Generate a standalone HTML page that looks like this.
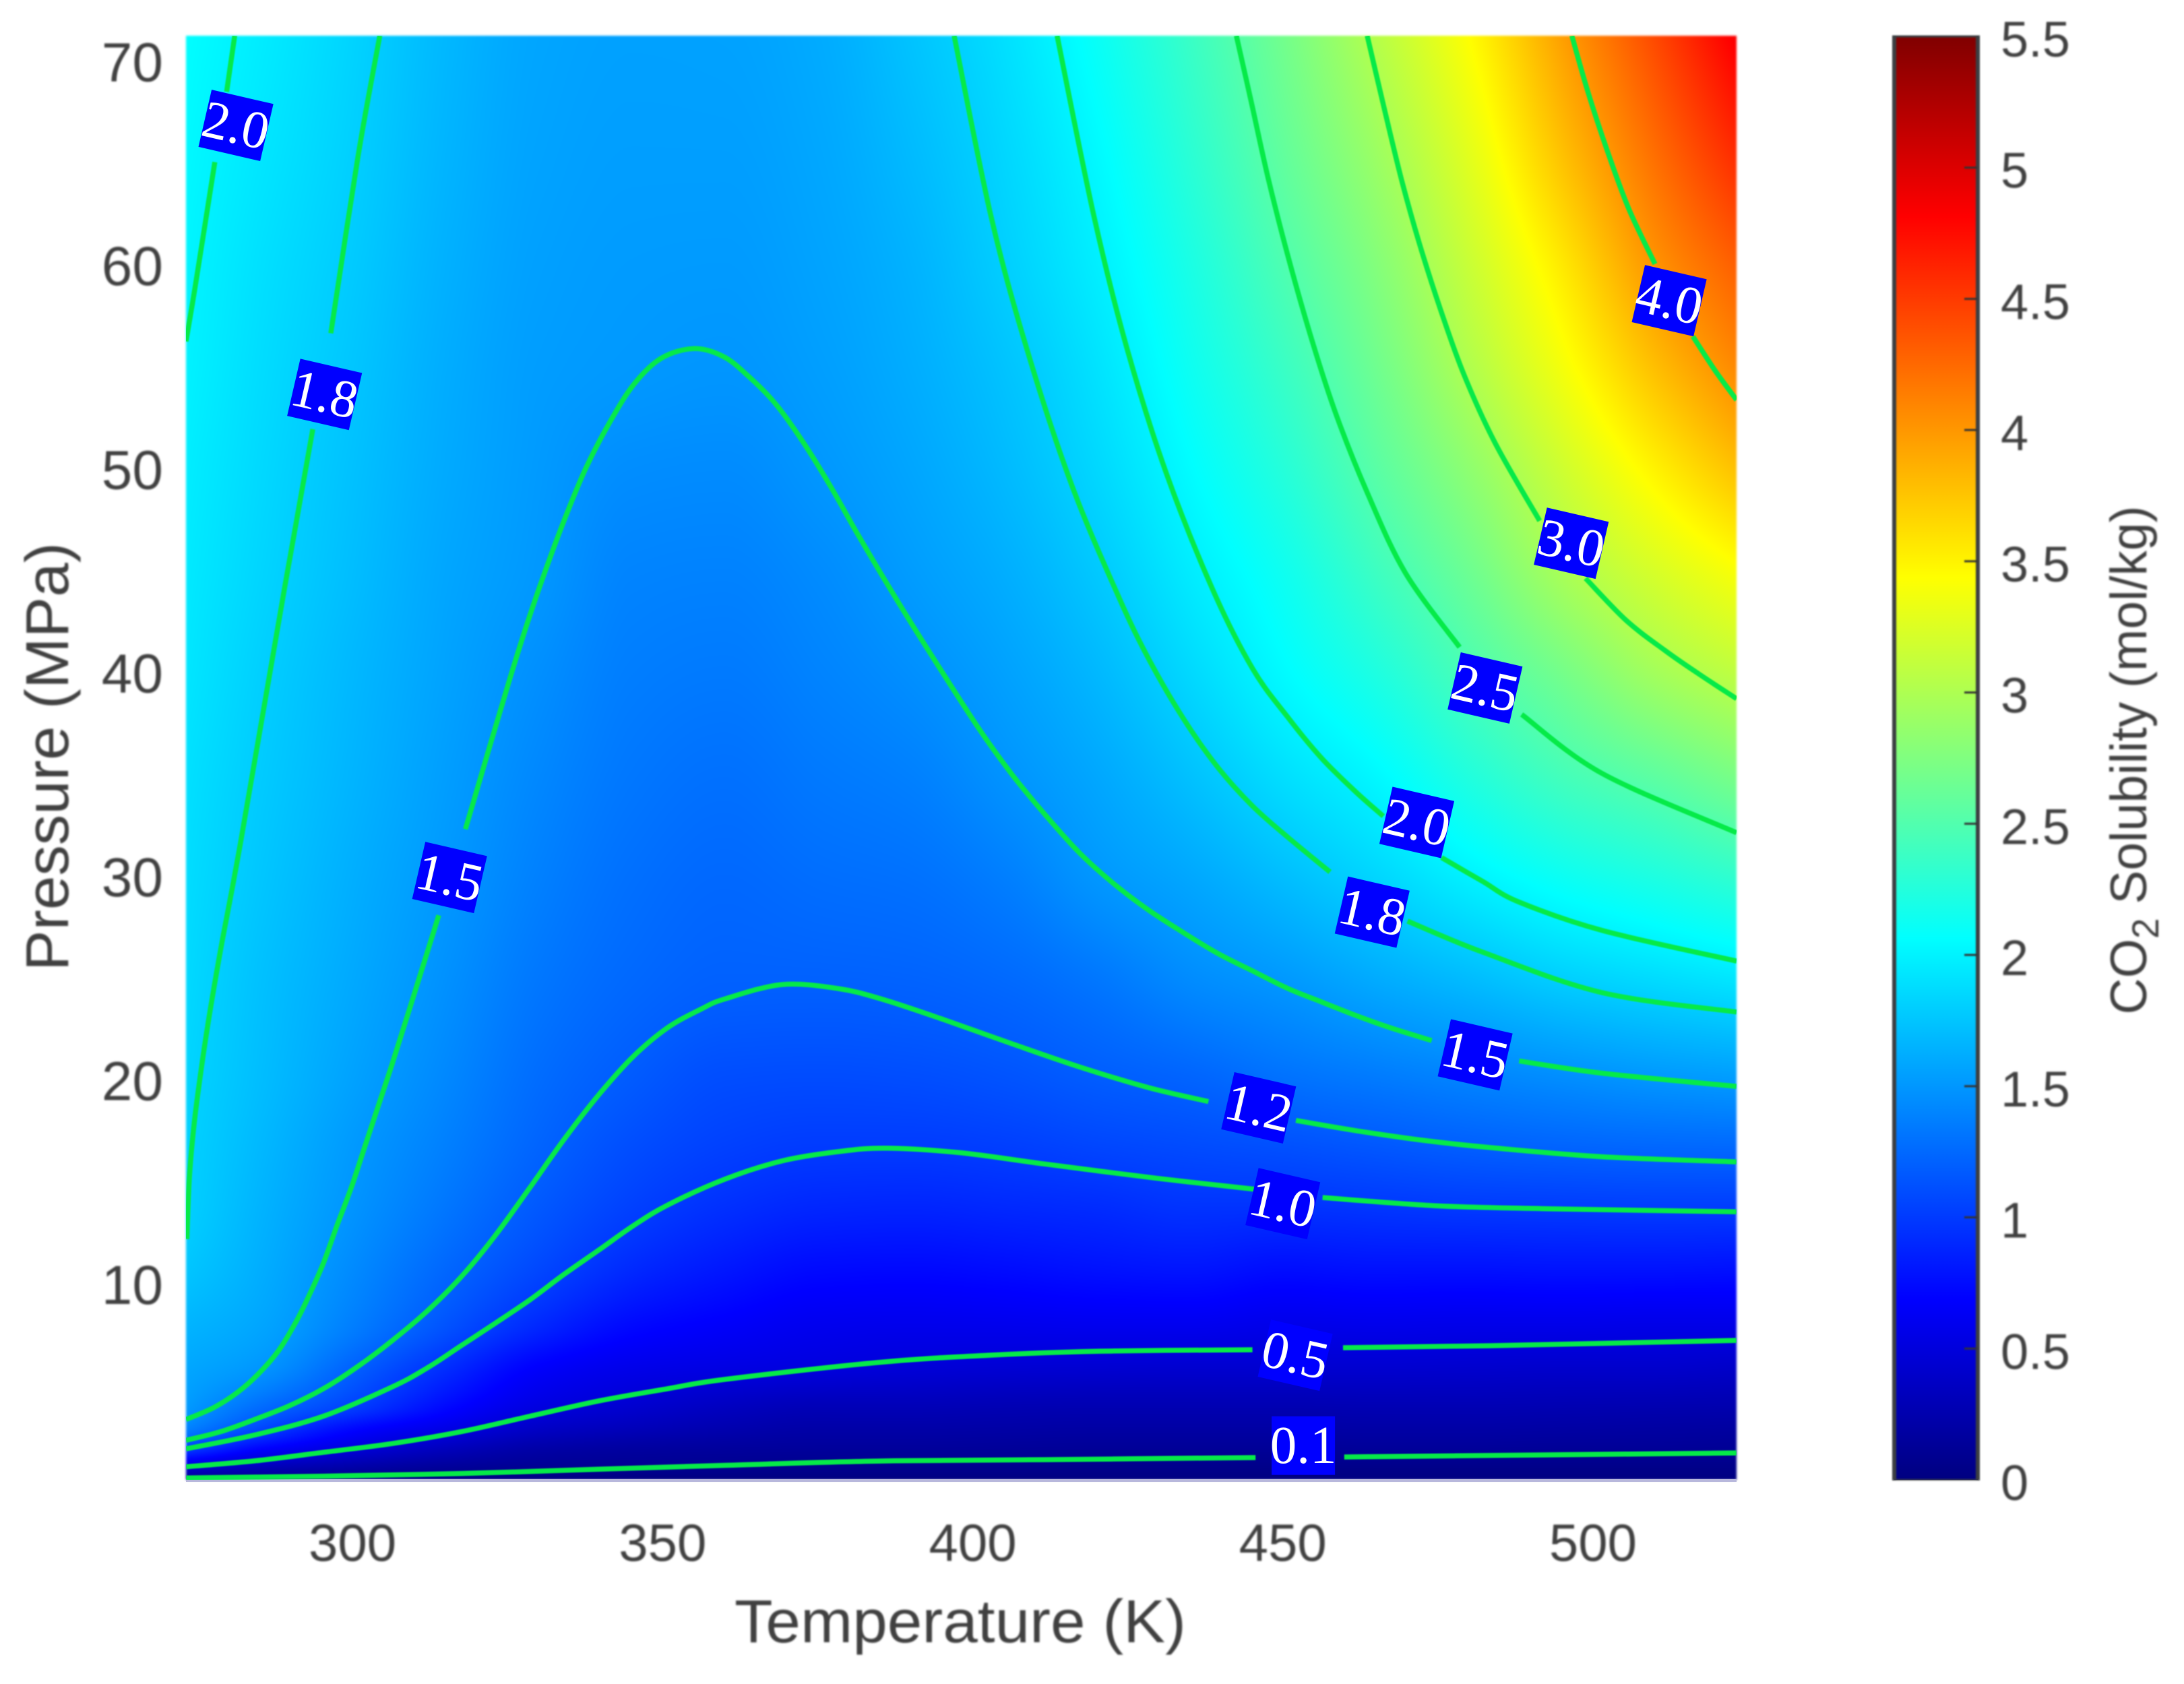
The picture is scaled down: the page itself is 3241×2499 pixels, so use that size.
<!DOCTYPE html>
<html lang="en">
<head>
<meta charset="utf-8">
<title>CO2 Solubility Contour Map</title>
<style>
  html,body{margin:0;padding:0;background:#fff;}
  #stage{position:relative;width:3241px;height:2499px;overflow:hidden;background:#fff;}
  #heatmap{position:absolute;left:276px;top:53px;width:2301px;height:2143px;filter:blur(1.5px);}
  #overlay{position:absolute;left:0;top:0;}
  .soft{filter:blur(1.3px);}
  text{font-family:"Liberation Sans",Arial,sans-serif;fill:#404040;}
  .label-text{font-family:"Liberation Serif",serif;fill:#fff;font-size:79px;}
</style>
</head>
<body>
<div id="stage">
  <canvas id="heatmap" width="2301" height="2143"></canvas>
  <svg id="overlay" width="3241" height="2499" viewBox="0 0 3241 2499" xmlns="http://www.w3.org/2000/svg">
    <defs>
      <clipPath id="plotClip"><rect x="276" y="53" width="2301" height="2143"></rect></clipPath>
      <linearGradient id="jetGradient" x1="0" y1="1" x2="0" y2="0"></linearGradient>
    </defs>
    <line x1="276" y1="2197" x2="2577" y2="2197" stroke="#b8b8dc" stroke-width="4"></line>
    <g id="contours" clip-path="url(#plotClip)"></g>
    <g id="contourLabels"></g>
    <g id="xTicks" class="soft"></g>
    <g id="yTicks" class="soft"></g>
    <text class="soft" x="1425" y="2437" text-anchor="middle" font-size="90" textLength="670" lengthAdjust="spacingAndGlyphs">Temperature (K)</text>
    <text class="soft" transform="translate(101,1123) rotate(-90)" text-anchor="middle" font-size="90" textLength="636" lengthAdjust="spacingAndGlyphs">Pressure (MPa)</text>
    <g id="colorbar"></g>
    <g id="colorbarTicks" class="soft"></g>
    <text class="soft" transform="translate(3185,1128) rotate(-90)" text-anchor="middle" font-size="76" textLength="755" lengthAdjust="spacingAndGlyphs">CO<tspan font-size="56" dy="18">2</tspan><tspan dy="-18"> Solubility (mol/kg)</tspan></text>
  </svg>
</div>
<script>
// ---- Heatmap data: solubility (mol/kg), one row per temperature column ----
const temperatureGrid = [273.15,285,300,315,330,345,360,375,390,405,420,435,450,465,480,495,510,523.15];
const pressureGrid = [0.45,1,2,3,4,6,8,11,14,17,20,25,30,35,40,45,50,55,60,65,71.3];
const solubilityGrid = [
 [.09,.40,1.04,1.40,1.52,1.59,1.66,1.76,1.81,1.82,1.835,1.86,1.88,1.90,1.93,1.95,1.97,1.995,2.01,2.03,2.06],
 [.06,.29,.71,1.08,1.27,1.50,1.58,1.63,1.66,1.685,1.71,1.73,1.76,1.785,1.81,1.84,1.86,1.88,1.90,1.93,1.965],
 [.03,.20,.50,.74,1.02,1.22,1.37,1.44,1.49,1.52,1.56,1.60,1.63,1.66,1.68,1.71,1.73,1.755,1.78,1.805,1.83],
 [.02,.13,.34,.56,.73,.94,1.135,1.25,1.33,1.38,1.42,1.47,1.51,1.54,1.565,1.585,1.605,1.62,1.64,1.66,1.68],
 [.01,.10,.22,.39,.52,.68,.90,1.08,1.17,1.23,1.27,1.33,1.38,1.42,1.46,1.505,1.52,1.535,1.55,1.565,1.58],
 [.01,.09,.18,.32,.43,.58,.73,.92,1.04,1.11,1.175,1.25,1.29,1.33,1.365,1.40,1.45,1.51,1.525,1.54,1.555],
 [.01,.08,.16,.26,.35,.54,.66,.82,.95,1.04,1.10,1.21,1.25,1.295,1.345,1.39,1.44,1.495,1.52,1.54,1.56],
 [.01,.07,.15,.22,.30,.51,.60,.75,.90,1.01,1.09,1.21,1.28,1.34,1.395,1.44,1.50,1.54,1.565,1.585,1.61],
 [.01,.07,.15,.22,.30,.48,.585,.74,.89,1.01,1.10,1.22,1.30,1.38,1.46,1.53,1.58,1.62,1.65,1.69,1.74],
 [.01,.07,.14,.21,.28,.46,.59,.76,.91,1.03,1.13,1.255,1.37,1.48,1.555,1.625,1.69,1.74,1.80,1.84,1.895],
 [.01,.06,.13,.20,.27,.45,.60,.79,.93,1.07,1.18,1.33,1.50,1.59,1.68,1.77,1.85,1.91,1.975,2.03,2.11],
 [.01,.06,.13,.20,.27,.44,.60,.81,.97,1.10,1.22,1.44,1.59,1.73,1.855,1.96,2.05,2.13,2.20,2.28,2.37],
 [.01,.05,.13,.20,.27,.44,.57,.77,.97,1.13,1.29,1.51,1.71,1.89,2.04,2.14,2.26,2.37,2.48,2.58,2.68],
 [.01,.05,.14,.21,.28,.44,.58,.79,.99,1.17,1.34,1.61,1.84,2.03,2.22,2.39,2.54,2.66,2.77,2.89,3.04],
 [.01,.05,.14,.21,.28,.43,.57,.79,1.01,1.21,1.39,1.70,1.99,2.24,2.46,2.65,2.83,3.01,3.14,3.27,3.44],
 [.01,.05,.13,.20,.27,.42,.57,.80,1.02,1.24,1.44,1.80,2.12,2.43,2.69,2.97,3.17,3.38,3.55,3.75,3.95],
 [.01,.05,.13,.19,.26,.42,.56,.80,1.03,1.26,1.49,1.87,2.22,2.57,2.94,3.22,3.50,3.78,4.01,4.20,4.42],
 [.01,.05,.12,.18,.25,.40,.56,.79,1.03,1.27,1.52,1.93,2.32,2.72,3.09,3.41,3.77,4.07,4.30,4.56,4.85]
];

// ---- Contour lines: each level holds segments of [temperature K, pressure MPa] ----
const contour01 = [[[273.15,.54],[295.3,.63],[317.5,.76],[339.7,.97],[360.1,1.16],[384.4,1.37],[411.5,1.44],[445.6,1.54]],[[459.9,1.57],[523.15,1.77]]];
const contour05 = [[[273.15,1.09],[284.2,1.38],[295.3,1.8],[306.4,2.23],[317.5,2.81],[328.6,3.57],[339.7,4.32],[350.8,4.92],[360.1,5.38],[384.4,6.2],[402.4,6.56],[420.5,6.76],[445.1,6.83]],[[459.7,6.93],[483.5,7.03],[523.15,7.29]]];
const contour10 = [[[273.15,1.97],[284.2,2.65],[295.3,3.57],[306.4,5.01],[312,5.93],[317.5,7.03],[323,8.13],[328.6,9.28],[334.1,10.53],[339.7,11.72],[345.2,12.9],[350.8,13.93],[360.1,15.21],[369.3,16.1],[378.3,16.55],[386,16.72],[397.9,16.5],[411.5,15.95],[429.5,15.25],[445.7,14.7]],[[456.4,14.3],[474.5,13.9],[492.5,13.75],[523.15,13.6]]];
const contour12 = [[[273.15,2.39],[278.7,2.81],[284.2,3.41],[289.8,4.08],[295.3,4.92],[300.9,6.02],[306.4,7.28],[312,8.72],[317.5,10.4],[323,12.43],[328.6,14.79],[334.1,17.15],[339.7,19.34],[345.2,21.2],[350.8,22.63],[356.3,23.56],[360.1,24.05],[369.3,24.75],[378.3,24.55],[385.5,24.02],[395.3,23.03],[406.35,21.84],[417.4,20.69],[428.5,19.68],[438,19.01]],[[452.1,18.08],[461.8,17.58],[472.8,17.1],[483.5,16.75],[501.5,16.3],[523.15,16.05]]];
const contour15 = [[[273.15,3.41],[277.6,3.99],[281.5,4.75],[284.8,5.64],[288.1,6.8],[290.9,8.21],[293.1,9.56],[295.3,11.08],[297.5,12.93],[299.8,14.79],[302,16.81],[304.2,18.84],[306.4,20.86],[309.2,23.56],[312.8,27.06],[313.9,28.15]],[[318.2,32.37],[322.1,36.41],[325.4,39.79],[328.2,42.5],[331,44.98],[334.3,47.66],[337.6,50.07],[341.5,52.35],[345.4,54.21],[349.8,55.48],[355.1,55.95],[359.8,55.56],[363.7,54.63],[368.1,53.28],[372.5,51.43],[377,49.23],[381.4,46.87],[387,44],[392.5,41.31],[400.8,37.39],[406.4,35.03],[411.9,33],[417.4,31.15],[423,29.63],[428.5,28.37],[434.1,27.27],[439.6,26.26],[445.1,25.42],[450.7,24.57],[456.2,23.9],[461.8,23.23],[467.3,22.63],[474,22]],[[488.1,21],[501.5,20.4],[523.15,19.75]]];
const contour18Left = [[[304.4,71.3],[300.9,65.4],[296.5,56.7]],[[293.6,52],[289.1,44.3],[281.95,31.72],[278.8,26.57],[277,23.39],[275.65,20.69],[274.5,18],[273.7,15.29],[273.3,12.26]]];
const contour18Right = [[[397,71.3],[402.9,62.5],[408.75,55.9],[415.9,49.3],[423.5,43.79],[428.5,40.65],[434.1,37.73],[439.6,35.37],[445.1,33.51],[450.7,32],[457.6,30.27]],[[470.1,27.86],[482.2,26.34],[501.5,24.35],[523.15,23.4]]];
const contour20Left = [[[281,71.3],[279.7,68.55]],[[277.8,65.1],[274.67,59.06],[273.15,56.3]]];
const contour20Right = [[[413.6,71.3],[419.5,62.5],[424.9,55.92],[431.2,49.84],[438.7,44.12],[445.1,40.26],[450.7,37.9],[456.2,35.87],[461.8,34.19],[466.2,33.01]],[[475.6,30.98],[482.2,29.81],[488.05,28.8],[501.5,27.4],[523.15,25.9]]];
const contour25 = [[[442.5,71.3],[444.9,68.06],[447.6,64.35],[451,60.29],[454.9,56.15],[458.7,52.62],[463.7,48.82],[469.8,44.92],[478.5,41.3]],[[488.5,38],[501.5,35.1],[523.15,32.2]]];
const contour30 = [[[463.6,71.3],[466.5,67.53],[469.2,64.16],[472,61.12],[475.4,57.88],[479.2,54.67],[484.2,51.33],[491.4,47.5]],[[498.8,44.68],[505.3,42.63],[511.6,41.14],[517,40],[523.15,38.77]]];
const contour40 = [[[496.6,71.3],[499.2,68.53],[502.5,65.49],[505.8,62.79],[510,60.1]],[[516.1,56.55],[519.7,54.87],[523.15,53.43]]];
const contourSeries = [contour01,contour05,contour10,contour12,contour15,contour18Left,contour18Right,contour20Left,contour20Right,contour25,contour30,contour40];
const contourSeriesNames = ['0-1','0-5','1-0','1-2','1-5','1-8-left','1-8-right','2-0-left','2-0-right','2-5','3-0','4-0'];

// ---- Contour labels ----
const labelTexts = ['2.0','1.8','1.5','4.0','3.0','2.5','2.0','1.8','1.5','1.2','1.0','0.5','0.1'];
const labelTemperatures = [281.2,295.5,315.65,512.3,496.5,482.6,471.6,464.4,481.0,446.1,450.0,452.0,453.3];
const labelPressures = [66.9,53.7,30.0,58.3,46.4,39.3,32.7,28.3,21.3,18.7,14.0,6.56,2.13];
const labelAngles = [13,13,13,13,13,13,13,13,13,13,13,13,0];

// ---- Ticks ----
const xTickValues = [300,350,400,450,500];
const yTickValues = [10,20,30,40,50,60,70];
const colorbarTickLabels = ['0','0.5','1','1.5','2','2.5','3','3.5','4','4.5','5','5.5'];
const colorbarTickValues = [0,0.5,1,1.5,2,2.5,3,3.5,4,4.5,5,5.5];

// ---- Axis functions ----
const plotLeft = 276, plotRight = 2577, plotTop = 53, plotBottom = 2196;
const tMin = 273.15, tMax = 523.15, pMin = 0.45, pMax = 71.3;
const colorMax = 5.5;
const barTop = 54, barBottom = 2196;
function xScale(t){ return plotLeft + (t - tMin) / (tMax - tMin) * (plotRight - plotLeft); }
function yScale(p){ return plotBottom - (p - pMin) / (pMax - pMin) * (plotBottom - plotTop); }
function barScale(v){ return barBottom - v / colorMax * (barBottom - barTop); }
function clamp01(v){ return Math.max(0, Math.min(1, v)); }
function jet(t){
  return [clamp01(1.5 - Math.abs(4*t - 3)), clamp01(1.5 - Math.abs(4*t - 2)), clamp01(1.5 - Math.abs(4*t - 1))];
}
const SVGNS = 'http://www.w3.org/2000/svg';
function make(tag, attrs){
  const el = document.createElementNS(SVGNS, tag);
  for (const k in attrs) el.setAttribute(k, attrs[k]);
  return el;
}

// ---- Shape-preserving curve through the table, so cells blend without seams ----
function tangents(xs, ys){
  const n = xs.length, slope = [], d = new Array(n);
  for (let i = 0; i < n - 1; i++) slope.push((ys[i+1] - ys[i]) / (xs[i+1] - xs[i]));
  d[0] = slope[0];
  d[n-1] = slope[n-2];
  for (let i = 1; i < n - 1; i++){
    const a = slope[i-1], b = slope[i];
    if (a * b <= 0) d[i] = 0;
    else {
      const w1 = 2*(xs[i+1]-xs[i]) + (xs[i]-xs[i-1]);
      const w2 = (xs[i+1]-xs[i]) + 2*(xs[i]-xs[i-1]);
      d[i] = (w1 + w2) / (w1/a + w2/b);
    }
  }
  return d;
}
function hermite(x0, x1, y0, y1, d0, d1, x){
  const h = x1 - x0, u = (x - x0) / h, u2 = u*u, u3 = u2*u;
  return (2*u3 - 3*u2 + 1)*y0 + (u3 - 2*u2 + u)*h*d0 + (-2*u3 + 3*u2)*y1 + (u3 - u2)*h*d1;
}

// ---- Draw heatmap ----
(function(){
  const canvas = document.getElementById('heatmap');
  const ctx = canvas.getContext('2d');
  const W = canvas.width, H = canvas.height;
  const img = ctx.createImageData(W, H);
  const nT = temperatureGrid.length;
  const columnTangents = solubilityGrid.map(function(col){ return tangents(pressureGrid, col); });
  const colIdx = new Int32Array(W), colT = new Float64Array(W);
  for (let x = 0; x < W; x++){
    const t = tMin + (x + .5) / W * (tMax - tMin);
    let i = 0;
    while (i < nT - 2 && t > temperatureGrid[i+1]) i++;
    colIdx[x] = i;
    colT[x] = t;
  }
  let o = 0;
  const rowVals = new Array(nT);
  for (let y = 0; y < H; y++){
    const p = pMax - (y + .5) / H * (pMax - pMin);
    let j = 0;
    while (j < pressureGrid.length - 2 && p > pressureGrid[j+1]) j++;
    for (let i = 0; i < nT; i++){
      rowVals[i] = hermite(pressureGrid[j], pressureGrid[j+1], solubilityGrid[i][j], solubilityGrid[i][j+1], columnTangents[i][j], columnTangents[i][j+1], p);
    }
    const rowD = tangents(temperatureGrid, rowVals);
    for (let x = 0; x < W; x++){
      const i = colIdx[x];
      const v = hermite(temperatureGrid[i], temperatureGrid[i+1], rowVals[i], rowVals[i+1], rowD[i], rowD[i+1], colT[x]);
      const rgb = jet(v / colorMax);
      img.data[o++] = rgb[0]*255;
      img.data[o++] = rgb[1]*255;
      img.data[o++] = rgb[2]*255;
      img.data[o++] = 255;
    }
  }
  ctx.putImageData(img, 0, 0);
})();

// ---- Draw contour lines (smooth Catmull-Rom through the read points) ----
function smoothPath(points){
  const pts = points.map(function(q){ return [xScale(q[0]), yScale(q[1])]; });
  let d = 'M' + pts[0][0].toFixed(1) + ' ' + pts[0][1].toFixed(1);
  for (let i = 0; i < pts.length - 1; i++){
    const p0 = pts[Math.max(0, i-1)], p1 = pts[i], p2 = pts[i+1], p3 = pts[Math.min(pts.length-1, i+2)];
    const c1x = p1[0] + (p2[0]-p0[0])/6, c1y = p1[1] + (p2[1]-p0[1])/6;
    const c2x = p2[0] - (p3[0]-p1[0])/6, c2y = p2[1] - (p3[1]-p1[1])/6;
    d += 'C' + c1x.toFixed(1) + ' ' + c1y.toFixed(1) + ' ' + c2x.toFixed(1) + ' ' + c2y.toFixed(1) + ' ' + p2[0].toFixed(1) + ' ' + p2[1].toFixed(1);
  }
  return d;
}
const contourGroup = document.getElementById('contours');
contourSeries.forEach(function(series, s){
  series.forEach(function(segment){
    const path = make('path', {d: smoothPath(segment), fill: 'none', stroke: '#06ea48', 'stroke-width': 7.5, 'stroke-linecap': 'butt', style: 'filter:blur(.8px)'});
    
    
    contourGroup.appendChild(path);
  });
});

// ---- Draw contour labels ----
const labelGroup = document.getElementById('contourLabels');
labelTexts.forEach(function(txt, i){
  const cx = xScale(labelTemperatures[i]), cy = yScale(labelPressures[i]);
  const g = make('g', {transform: 'translate(' + cx.toFixed(1) + ',' + cy.toFixed(1) + ') rotate(' + labelAngles[i] + ')'});
  
  
  const r = make('rect', {x: -47, y: -43.5, width: 94, height: 87, fill: '#0000ff'});
  
  
  g.appendChild(r);
  const t = make('text', {x: 0, y: 26, 'text-anchor': 'middle', 'class': 'label-text'});
  
  
  t.textContent = txt;
  g.appendChild(t);
  labelGroup.appendChild(g);
});

// ---- Axis tick labels ----
const xTickGroup = document.getElementById('xTicks');
xTickValues.forEach(function(v){
  const t = make('text', {x: xScale(v), y: 2316, 'text-anchor': 'middle', 'font-size': 78});
  
  
  t.textContent = String(v);
  xTickGroup.appendChild(t);
});
const yTickGroup = document.getElementById('yTicks');
yTickValues.forEach(function(v){
  const t = make('text', {x: 242, y: yScale(v) + 28, 'text-anchor': 'end', 'font-size': 82});
  
  
  t.textContent = String(v);
  yTickGroup.appendChild(t);
});

// ---- Colorbar ----
(function(){
  const grad = document.getElementById('jetGradient');
  for (let k = 0; k <= 8; k++){
    const rgb = jet(k / 8);
    const stop = make('stop', {offset: k / 8, 'stop-color': 'rgb(' + Math.round(rgb[0]*255) + ',' + Math.round(rgb[1]*255) + ',' + Math.round(rgb[2]*255) + ')'});
    grad.appendChild(stop);
  }
  const bar = document.getElementById('colorbar');
  const fill = make('rect', {x: 2811, y: barTop, width: 124, height: barBottom - barTop, fill: 'url(#jetGradient)'});
  
  
  bar.appendChild(fill);
  const frame = make('g', {style: 'filter:blur(1px)'});
  
  
  const edges = [[2811,barTop,2811,barBottom,6],[2935,barTop,2935,barBottom,6],[2808,barTop,2938,barTop,3],[2808,barBottom,2938,barBottom,2]];
  edges.forEach(function(e){
    const l = make('line', {x1: e[0], y1: e[1], x2: e[2], y2: e[3], stroke: '#3c3f42', 'stroke-width': e[4]});
    
    
    frame.appendChild(l);
  });
  colorbarTickValues.forEach(function(v){
    if (v === 0 || v === colorMax) return;
    const l = make('line', {x1: 2915, y1: barScale(v), x2: 2934, y2: barScale(v), stroke: '#333', 'stroke-width': 3});
    
    
    frame.appendChild(l);
  });
  bar.appendChild(frame);
  const tickGroup = document.getElementById('colorbarTicks');
  colorbarTickLabels.forEach(function(lbl, i){
    const t = make('text', {x: 2969, y: barScale(colorbarTickValues[i]) + 30, 'font-size': 74});
    
    
    t.textContent = lbl;
    tickGroup.appendChild(t);
  });
})();
</script>
</body>
</html>
